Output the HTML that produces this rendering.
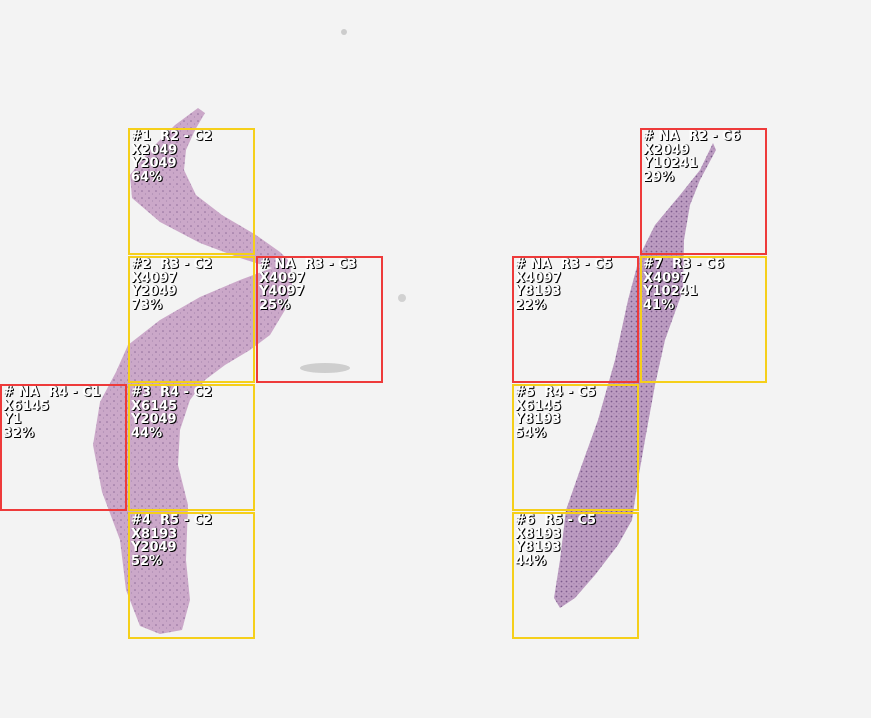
<!DOCTYPE html>
<html><head><meta charset="utf-8"><style>
html,body{margin:0;padding:0;background:#f3f3f3;}
#wrap{position:relative;width:871px;height:718px;overflow:hidden;background:#f3f3f3;font-family:"DejaVu Sans","Liberation Sans",sans-serif;}
.tile{position:absolute;box-sizing:border-box;border:2px solid;width:127px;height:127px;}
.lbl{position:absolute;left:1px;top:0px;color:#fff;font-size:13px;font-weight:bold;line-height:13.5px;text-shadow:1px 1px 0 #000,1px 0 0 #222;white-space:pre;letter-spacing:0px;}
</style></head><body>
<div id="wrap">
<svg width="871" height="718" style="position:absolute;left:0;top:0">
<defs>
<pattern id="spk" width="7" height="7" patternUnits="userSpaceOnUse"><rect width="7" height="7" fill="#cba8c9"/><circle cx="2" cy="2" r="0.8" fill="#8f6c9a"/><circle cx="5.5" cy="5" r="0.6" fill="#a988b0"/></pattern>
<pattern id="spk2" width="5" height="5" patternUnits="userSpaceOnUse"><rect width="5" height="5" fill="#bc9cc1"/><circle cx="1.5" cy="1.5" r="0.9" fill="#7c5b8c"/><circle cx="4" cy="3.8" r="0.6" fill="#9a78a6"/></pattern>
</defs>
<path fill="url(#spk)" d="M198,108 L205,113 L195,130 L186,150 L184,170 L196,195 L222,215 L256,235 L280,252 L290,262 L292,285 L285,310 L270,335 L250,350 L225,365 L205,380 L190,400 L180,430 L178,465 L188,505 L186,560 L190,600 L182,630 L160,634 L140,626 L126,590 L120,540 L102,492 L93,445 L100,402 L116,372 L128,345 L160,320 L200,297 L240,280 L272,268 L240,258 L200,243 L160,222 L132,198 L130,175 L150,150 L175,125 Z"/>
<path fill="url(#spk2)" d="M713,143 L716,150 L700,180 L690,205 L684,240 L683,290 L665,340 L655,385 L645,440 L638,480 L632,520 L618,545 L595,575 L575,598 L560,608 L554,598 L560,560 L566,510 L580,470 L598,420 L615,360 L628,300 L640,255 L655,225 L680,195 L700,170 Z"/>
<ellipse cx="325" cy="368" rx="25" ry="5" fill="#aaa" opacity="0.5"/>
<circle cx="402" cy="298" r="4" fill="#bbb" opacity="0.6"/>
<circle cx="344" cy="32" r="3" fill="#ccc"/>
</svg>
<div id="tiles"></div>
</div>
<script>
const tileIds=["#1","#2","# NA","# NA","#3","#4","# NA","# NA","#7","#5","#6"];
const tileRows=[2,3,3,4,4,5,2,3,3,4,5];
const tileCols=[2,2,3,1,2,2,6,5,6,5,5];
const tileX=[2049,4097,4097,6145,6145,8193,2049,4097,4097,6145,8193];
const tileY=[2049,2049,4097,1,2049,2049,10241,8193,10241,8193,8193];
const tilePct=[64,73,25,32,44,52,29,22,41,54,44];
const tileOk=[1,1,0,0,1,1,0,0,1,1,1];
const cell=128;
const host=document.getElementById('tiles');
for(let i=0;i<tileIds.length;i++){
  const d=document.createElement('div');
  d.className='tile';
  
  
  d.style.left=((tileCols[i]-1)*cell)+'px';
  d.style.top=((tileRows[i]-1)*cell)+'px';
  d.style.borderColor=tileOk[i]?'#f5cf1a':'#ee3a3a';
  const l=document.createElement('div');
  l.className='lbl';
  
  
  l.textContent=tileIds[i]+'  R'+tileRows[i]+' - C'+tileCols[i]+'\nX'+tileX[i]+'\nY'+tileY[i]+'\n'+tilePct[i]+'%';
  d.appendChild(l);
  host.appendChild(d);
}
</script>
</body></html>
